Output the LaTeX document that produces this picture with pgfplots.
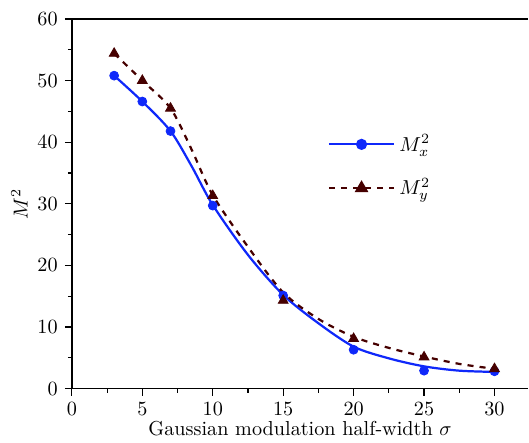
\documentclass[border=0pt]{standalone}
\usepackage{pgfplots}
\pgfplotsset{compat=1.18}
\definecolor{cx}{RGB}{15,40,250}
\definecolor{cy}{RGB}{70,0,0}
\begin{document}
\begin{tikzpicture}
\begin{axis}[
  scale only axis, width=226pt, height=183pt,
  xmin=0, xmax=32.4, ymin=0, ymax=60,
  axis x line*=bottom, axis y line*=left,
  xtick={0,5,...,30}, ytick={0,10,...,60},
  minor x tick num=1, minor y tick num=1,
  tick align=outside,
  major tick length=3.5pt, minor tick length=2pt,
  tick style={black, line width=0.6pt},
  axis line style={line width=0.7pt},
  xlabel={Gaussian modulation half-width $\sigma$},
  ylabel={$M^2$},
  xlabel style={yshift=4pt},
  ylabel style={yshift=-2pt},
  legend style={draw=none, fill=none, at={(axis cs:17.7,42.6)}, anchor=north west, row sep=8pt, font=\normalsize},
  legend cell align=left,
  legend image code/.code={\draw[mark repeat=2,mark phase=2] plot coordinates {(0cm,0cm)(0.57cm,0cm)(1.14cm,0cm)};},
]
\addlegendimage{color=cx, line width=1.1pt, mark=*, mark size=2.2pt}
\addlegendentry{$M_x^2$}
\addlegendimage{color=cy, line width=1.1pt, dashed, mark=triangle*, mark size=2.8pt, mark options={solid}}
\addlegendentry{$M_y^2$}
% fitted curves
\addplot[forget plot, color=cx, line width=1.1pt, smooth, tension=0.5] coordinates {
(3,50.8)(5,46.6)(7,41.8)(8.5,36.1)(10,29.8)(12.5,21.7)(15,15.2)(17.5,10.6)(20,6.8)(22.5,4.9)(25,3.6)(27.5,2.9)(30,2.7)};
\addplot[forget plot, color=cy, line width=1.1pt, dashed, smooth, tension=0.5] coordinates {
(3,54.4)(5,50.0)(7,45.5)(8.5,38.8)(10,31.4)(12.5,23.0)(15,15.6)(17.5,11.3)(20,8.4)(22.5,6.6)(25,5.2)(27.5,4.0)(30,3.2)};
% data points
\addplot[forget plot, only marks, color=cx, mark=*, mark size=2.2pt] coordinates {
(3,50.8)(5,46.6)(7,41.8)(10,29.7)(15,15.1)(20,6.3)(25,2.9)(30,2.8)};
\addplot[forget plot, only marks, color=cy, mark=triangle*, mark size=2.8pt] coordinates {
(3,54.4)(5,50.0)(7,45.5)(10,31.3)(15,14.3)(20,8.1)(25,5.1)(30,3.2)};
\draw[line width=0.7pt] (rel axis cs:0,1) -- (rel axis cs:1,1);
\end{axis}
\path (current axis.south west) ++(-35.6pt,0pt);
\path (current axis.north west) ++(0pt,9.4pt);
\end{tikzpicture}
\end{document}
